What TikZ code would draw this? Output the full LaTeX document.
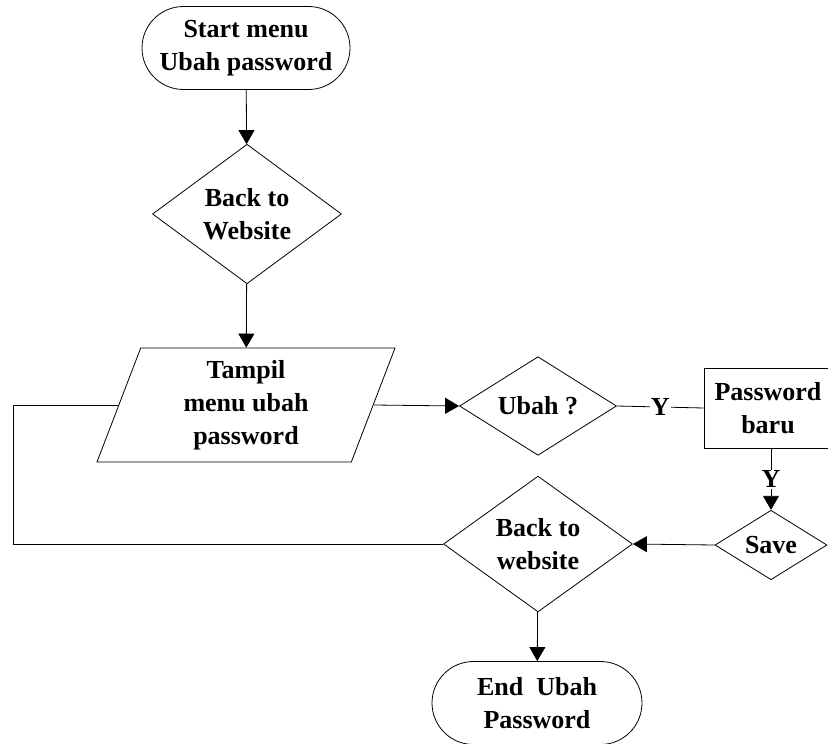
\documentclass[tikz,border=0pt]{standalone}
\usepackage{fontspec}
\setmainfont{Liberation Serif}
\usetikzlibrary{shapes.geometric}
\usetikzlibrary{shapes.misc}
\usetikzlibrary{arrows.meta}

\begin{document}
\begin{tikzpicture}[x=1pt, y=-1pt, line width=0.8pt,
    >={Triangle[length=14pt,width=16pt]},
    every node/.style={font=\bfseries\fontsize{26}{33}\selectfont, align=center},
    terminal/.style={draw, rounded rectangle, minimum width=208pt, minimum height=83pt, inner sep=0pt},
    decision/.style={draw, diamond, inner sep=0pt},
    inout/.style={draw, trapezium, trapezium left angle=64, trapezium right angle=116,
                  trapezium stretches body, minimum width=298pt, minimum height=114pt, inner sep=0pt},
    process/.style={draw, rectangle, minimum width=128pt, minimum height=80pt, inner sep=0pt},
    ylabel/.style={fill=white, inner sep=1pt}]

        \useasboundingbox (0,0) rectangle (828,744);

        % Nodes
        \node[terminal] (start) at (246,48) {Start menu\\Ubah password};
        \node[decision, minimum width=189pt, minimum height=114pt] (back1) at (247,214) {Back to\\Website};
        \node[inout] (tampil) at (246,405) {Tampil\\menu ubah\\password};
        \node[decision, minimum width=157pt, minimum height=94pt] (ubah) at (538,406) {Ubah ?};
        \node[process] (baru) at (768,408) {Password\\baru};
        \node[decision, minimum width=112pt, minimum height=67pt] (save) at (771,545) {Save};
        \node[decision, minimum width=189pt, minimum height=114pt] (back2) at (538,544) {Back to\\website};
        \node[terminal, minimum width=210pt] (end) at (537,703) {End~ Ubah\\Password};
        \coordinate (loop) at (13,544);

        % Connectors
        \draw[->] (start) -- (back1);
        \draw[->] (back1) -- (tampil);
        \draw[->] (tampil.east) -- (ubah.west);
        \draw (ubah.east) -- node[ylabel] {Y} (baru.west);
        \draw[->] (save.north |- baru.south) -- node[ylabel] {Y} (save.north);
        \draw[->] (save.west) -- (back2.east);
        \draw (back2.west) -- (loop) |- (tampil.west);
        \draw[->] (back2) -- (end);
\end{tikzpicture}
\end{document}
